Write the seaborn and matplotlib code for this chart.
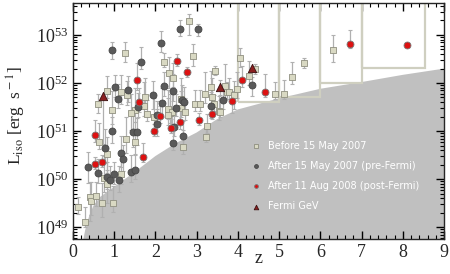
import numpy as np
import pandas as pd
import seaborn as sns
import matplotlib
matplotlib.use("Agg")
from matplotlib import pylab as plt
from matplotlib.patches import Rectangle
from matplotlib.ticker import LogLocator, MultipleLocator, NullFormatter

# ---- data (log10 L_iso) ----
# before 15 May 2007
sq_z = [1.26, 2.82, 2.90, 2.21, 2.34, 2.43, 3.45, 1.16, 1.30, 0.82, 0.61, 0.94, 2.62, 2.72, 2.35, 1.97,
        1.79, 1.72, 1.50, 1.42, 2.96, 3.08, 3.34, 3.37, 3.73, 3.54, 3.24, 3.23, 1.29, 0.64, 1.50, 0.83,
        0.75, 1.17, 0.82, 2.68, 0.41, 0.45, 0.55, 0.70, 0.98, 0.13, 0.29, 4.05, 4.42, 4.27, 3.69, 3.79,
        3.97, 3.91, 3.57, 4.90, 5.12, 5.31, 5.61, 6.30, 3.20, 2.61, 3.43, 2.30, 2.40, 2.31, 1.75]
sq_L = [52.63, 53.29, 52.56, 52.43, 52.20, 52.11, 52.26, 51.82, 51.74, 51.84, 51.57, 51.44, 51.49, 51.39,
        51.37, 51.29, 51.35, 51.52, 51.44, 51.38, 51.56, 51.56, 51.91, 51.71, 51.82, 51.42, 51.10, 50.88,
        50.84, 50.77, 50.78, 50.52, 50.03, 50.10, 49.90, 50.67, 49.63, 49.55, 49.65, 49.51, 49.51, 49.43,
        49.10, 52.53, 52.29, 52.15, 51.94, 51.81, 51.88, 51.75, 51.40, 51.77, 51.77, 52.13, 52.42, 52.69,
        51.78, 51.66, 51.56, 51.45, 51.40, 51.33, 51.71]
sq_dn = [0.20, 0.30, 0.20, 0.10, 0.30, 0.20, 0.10, 0.25, 0.20, 0.15, 0.20, 0.30, 0.20, 0.15, 0.20, 0.30,
         0.15, 0.20, 0.25, 0.35, 0.15, 0.15, 0.20, 0.20, 0.15, 0.20, 0.15, 0.10, 0.30, 0.15, 0.25, 0.40,
         0.30, 0.20, 0.40, 0.15, 0.50, 0.30, 0.20, 0.30, 0.20, 0.15, 0.10, 0.20, 0.10, 0.20, 0.30, 0.15,
         0.20, 0.30, 0.10, 0.10, 0.10, 0.15, 0.10, 0.25, 0.20, 0.20, 0.15, 0.20, 0.25, 0.20, 0.20]
sq_up = [0.23, 0.15, 0.25, 0.20, 0.35, 0.30, 0.10, 0.35, 0.30, 0.30, 0.20, 0.40, 0.35, 0.30, 0.40, 0.40,
         0.30, 0.50, 0.45, 0.40, 0.30, 0.30, 0.35, 0.40, 0.20, 0.30, 0.25, 0.20, 0.45, 0.40, 0.40, 0.35,
         0.45, 0.40, 0.30, 0.35, 0.30, 0.40, 0.30, 0.40, 0.35, 0.20, 0.33, 0.20, 0.10, 0.30, 0.45, 0.30,
         0.35, 0.30, 0.25, 0.25, 0.30, 0.30, 0.10, 0.30, 0.45, 0.45, 0.20, 0.40, 0.45, 0.35, 0.40]

# after 15 May 2007 (pre-Fermi)
dk_z = [0.94, 2.14, 2.60, 3.03, 1.64, 1.02, 1.33, 1.10, 1.95, 2.21, 2.43, 2.64, 2.17, 3.35, 3.63, 4.35,
        0.94, 1.45, 1.55, 0.78, 1.16, 1.22, 0.37, 0.61, 0.83, 0.91, 0.99, 1.12, 1.42, 1.50, 2.42, 2.68,
        2.03, 2.46, 2.50, 2.69, 1.57, 2.05]
dk_L = [52.69, 52.84, 53.12, 53.12, 52.44, 51.91, 51.85, 51.67, 51.75, 51.93, 51.83, 51.65, 51.59, 51.52,
        51.65, 51.96, 51.00, 50.97, 50.97, 50.64, 50.55, 50.42, 50.26, 50.12, 50.05, 49.98, 50.10, 49.98,
        50.15, 50.20, 50.76, 50.90, 51.15, 51.09, 51.47, 51.61, 51.50, 51.33]
dk_dn = [0.20, 0.20, 0.15, 0.15, 0.15, 0.20, 0.25, 0.20, 0.30, 0.20, 0.20, 0.25, 0.30, 0.25, 0.20, 0.24,
         0.25, 0.30, 0.25, 0.30, 0.30, 0.25, 0.35, 0.20, 0.25, 0.20, 0.20, 0.25, 0.20, 0.20, 0.15, 0.20,
         0.25, 0.20, 0.15, 0.25, 0.20, 0.20]
dk_up = [0.17, 0.25, 0.20, 0.10, 0.30, 0.25, 0.30, 0.30, 0.30, 0.30, 0.35, 0.30, 0.30, 0.30, 0.30, 0.17,
         0.30, 0.35, 0.30, 0.40, 0.35, 0.30, 0.30, 0.30, 0.30, 0.30, 0.25, 0.30, 0.35, 0.30, 0.25, 0.30,
         0.30, 0.40, 0.30, 0.30, 0.30, 0.30]

# after 11 Aug 2008 (post-Fermi)
rd_z = [2.52, 2.77, 1.55, 1.61, 2.11, 3.37, 3.05, 2.60, 2.37, 1.97, 0.53, 0.53, 0.70, 1.69, 4.11, 3.85,
        4.66, 6.71, 8.11]
rd_L = [52.46, 52.23, 52.06, 51.60, 51.32, 51.35, 51.23, 51.19, 51.06, 51.00, 50.92, 50.31, 50.35, 50.46,
        52.06, 51.63, 51.81, 52.81, 52.79]
rd_dn = [0.10, 0.10, 0.20, 0.20, 0.15, 0.10, 0.10, 0.15, 0.10, 0.10, 0.15, 0.10, 0.10, 0.10, 0.15, 0.25,
         0.10, 0.08, 0.00]
rd_up = [0.15, 0.10, 0.35, 0.30, 0.20, 0.20, 0.15, 0.25, 0.20, 0.15, 0.30, 0.15, 0.15, 0.30, 0.29, 0.20,
         0.38, 0.29, 0.00]

# Fermi GeV
tr_z = [0.73, 3.57, 4.35]
tr_L = [51.73, 51.91, 52.31]
tr_dn = [1.00, 0.15, 0.00]
tr_up = [0.00, 0.15, 0.00]

# detection threshold (lower edge of the grey area)
thr_z = [0.25, 0.30, 0.40, 0.50, 0.66, 1.0, 1.5, 2.0, 2.5, 3.0, 3.5, 4.0, 5.0, 6.0, 7.0, 8.0, 9.0]
thr_L = [48.73, 48.95, 49.25, 49.45, 49.63, 49.84, 50.15, 50.48, 50.75, 50.97, 51.25, 51.45, 51.68,
         51.88, 52.02, 52.17, 52.30]

# redshift bins (boxes)
box_zlo = [4, 5, 6, 7]
box_zhi = [5, 6, 7, 8.53]
box_Llo = [51.61, 51.70, 52.01, 52.31]

sns.set_style("ticks")
plt.rcParams['font.family'] = ['Liberation Serif', 'DejaVu Serif']
plt.rcParams['mathtext.fontset'] = 'stix'

fig = plt.figure(figsize=(4.5, 2.74), dpi=100)
ax = fig.add_axes([0.162, 0.126, 0.825, 0.864])

ax.fill_between(thr_z, 1e40, np.power(10.0, thr_L), color="#c0c0c0", lw=0, zorder=0)

for zl, zh, ll in zip(box_zlo, box_zhi, box_Llo):
    ax.add_patch(Rectangle((zl, 10 ** ll), zh - zl, 1e55, fill=False, ec="#cfcfc0", lw=1.6, zorder=1))

groups = [
    (sq_z, sq_L, sq_dn, sq_up, "s", "#d9d9c3", "#8f8f80", 4.5, "Before 15 May 2007"),
    (dk_z, dk_L, dk_dn, dk_up, "o", "#5a5a5a", "#454545", 5.0, "After 15 May 2007 (pre-Fermi)"),
    (rd_z, rd_L, rd_dn, rd_up, "o", "#dd1111", "#777777", 5.0, "After 11 Aug 2008 (post-Fermi)"),
    (tr_z, tr_L, tr_dn, tr_up, "^", "#8b2020", "#3a1010", 6.0, "Fermi GeV"),
]

for z, lg, dn, up, mk, fc, ec, ms, lab in groups:
    lg = np.array(lg)
    L = 10 ** lg
    yerr = [L - 10 ** (lg - np.array(dn)), 10 ** (lg + np.array(up)) - L]
    ax.errorbar(z, L, yerr=yerr, fmt="none", ecolor="#b0b0b0", elinewidth=0.9, capsize=1.5,
                capthick=0.8, zorder=2)
    df = pd.DataFrame({"z": z, "L": L})
    sns.scatterplot(data=df, x="z", y="L", marker=mk, color=fc, edgecolor=ec, linewidth=0.6,
                    s=ms ** 2, label=lab, ax=ax, zorder=3)

ax.set_yscale("log")
ax.set_xlim(0, 9)
ax.set_ylim(10 ** 48.744, 10 ** 53.67)
ax.xaxis.set_major_locator(MultipleLocator(1))
ax.xaxis.set_minor_locator(MultipleLocator(0.2))
ax.yaxis.set_major_locator(LogLocator(base=10, numticks=10))
ax.yaxis.set_minor_locator(LogLocator(base=10, subs=np.arange(2, 10), numticks=20))
ax.yaxis.set_minor_formatter(NullFormatter())
ax.tick_params(which="both", direction="in", top=True, right=True, labelsize=13, color="black")
ax.tick_params(which="major", length=6, width=1)
ax.tick_params(which="minor", length=3, width=0.8)
ax.tick_params(axis="x", pad=3)
for sp in ax.spines.values():
    sp.set_linewidth(1.0)

ax.set_xlabel("z", fontsize=13)
ax.xaxis.set_label_coords(0.5, -0.044)
ax.set_ylabel(r"L$_{\rm iso}$ [erg  s$^{\rm -1}$]", fontsize=12.5)
ax.yaxis.set_label_coords(-0.12, 0.525)

leg = ax.legend(loc="upper left", bbox_to_anchor=(0.455, 0.455), frameon=False, labelcolor="white",
                prop={"family": "DejaVu Sans", "size": 7}, markerscale=0.55, labelspacing=1.05,
                handletextpad=0.55, handlelength=1.2)

fig.savefig("out.png", dpi=100)
